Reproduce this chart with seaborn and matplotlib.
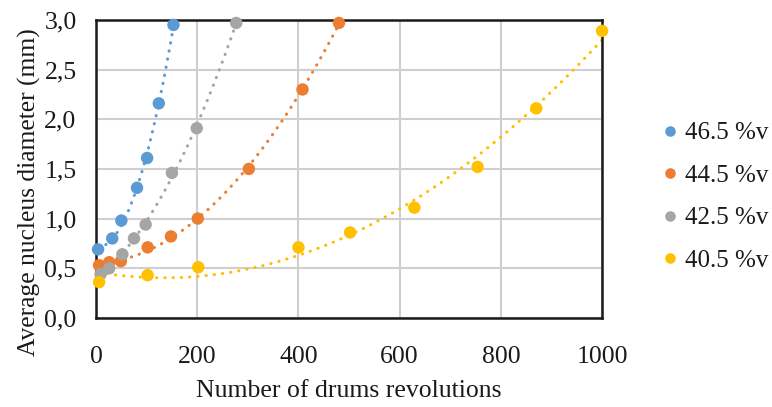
import numpy as np
import pandas as pd
import matplotlib
matplotlib.use("Agg")
import matplotlib.pyplot as plt
import seaborn as sns
from matplotlib.ticker import FuncFormatter, MultipleLocator

series_labels = ["46.5 %v", "44.5 %v", "42.5 %v", "40.5 %v"]
colors = ["#5B9BD5", "#ED7D31", "#A5A5A5", "#FFC000"]

x_465 = [4, 32, 50, 81, 101, 124, 153]
y_465 = [0.69, 0.80, 0.98, 1.31, 1.61, 2.16, 2.95]
x_445 = [6, 26, 49, 102, 148, 201, 302, 408, 480]
y_445 = [0.53, 0.56, 0.57, 0.71, 0.82, 1.00, 1.50, 2.30, 2.97]
x_425 = [9, 26, 52, 75, 98, 150, 199, 277]
y_425 = [0.44, 0.50, 0.64, 0.80, 0.94, 1.46, 1.91, 2.97]
x_405 = [6, 102, 202, 400, 502, 629, 754, 870, 1000]
y_405 = [0.36, 0.43, 0.51, 0.71, 0.86, 1.11, 1.52, 2.11, 2.89]

xs = [x_465, x_445, x_425, x_405]
ys = [y_465, y_445, y_425, y_405]

df = pd.concat([pd.DataFrame({"x": x, "y": y, "series": lab})
                for x, y, lab in zip(xs, ys, series_labels)], ignore_index=True)

sns.set_theme(style="white")
plt.rcParams["font.family"] = ["Liberation Serif", "DejaVu Serif"]

fig = plt.figure(figsize=(7.72, 4.07), dpi=100)
ax = fig.add_axes([0.1244, 0.219, 0.6555, 0.732])

# polynomial (order 2) trendlines
for x, y, c in zip(xs, ys, colors):
    coef = np.polyfit(x, y, 2)
    xx = np.linspace(min(x), max(x), 200)
    ax.plot(xx, np.polyval(coef, xx), color=c, lw=2.2,
            linestyle=(0, (0.1, 2.6)), dash_capstyle="round", zorder=2)

sns.scatterplot(data=df, x="x", y="y", hue="series", hue_order=series_labels,
                palette=colors, s=80, edgecolor="none", ax=ax, zorder=3,
                clip_on=False)

ax.set_xlim(0, 1000)
ax.set_ylim(0, 3.0)
ax.xaxis.set_major_locator(MultipleLocator(200))
ax.yaxis.set_major_locator(MultipleLocator(0.5))
ax.yaxis.set_major_formatter(FuncFormatter(lambda v, p: f"{v:.1f}".replace(".", ",")))
ax.grid(True, color="#CFCFCF", lw=1.5)
ax.set_axisbelow(True)
for s in ax.spines.values():
    s.set_visible(True)
    s.set_color("#1a1a1a")
    s.set_linewidth(1.8)
ax.tick_params(axis="x", length=0, labelsize=18.5, colors="#1a1a1a", pad=20)
ax.tick_params(axis="y", length=0, labelsize=18.5, colors="#1a1a1a", pad=14)
ax.set_xlabel("Number of drums revolutions", fontsize=18.5, color="#1a1a1a", labelpad=9)
ax.set_ylabel("Average nucleus diameter (mm)", fontsize=18.4, color="#1a1a1a")
ax.yaxis.set_label_coords(-0.109, 0.423)

leg = ax.legend(loc="center left", bbox_to_anchor=(0.857, 0.516),
                bbox_transform=fig.transFigure, frameon=False,
                fontsize=18, handlelength=0.7, handletextpad=0.25,
                labelspacing=0.8, markerscale=0.85,
                borderpad=0, borderaxespad=0)
for t in leg.get_texts():
    t.set_color("#1a1a1a")

fig.savefig("out.png", dpi=100)
